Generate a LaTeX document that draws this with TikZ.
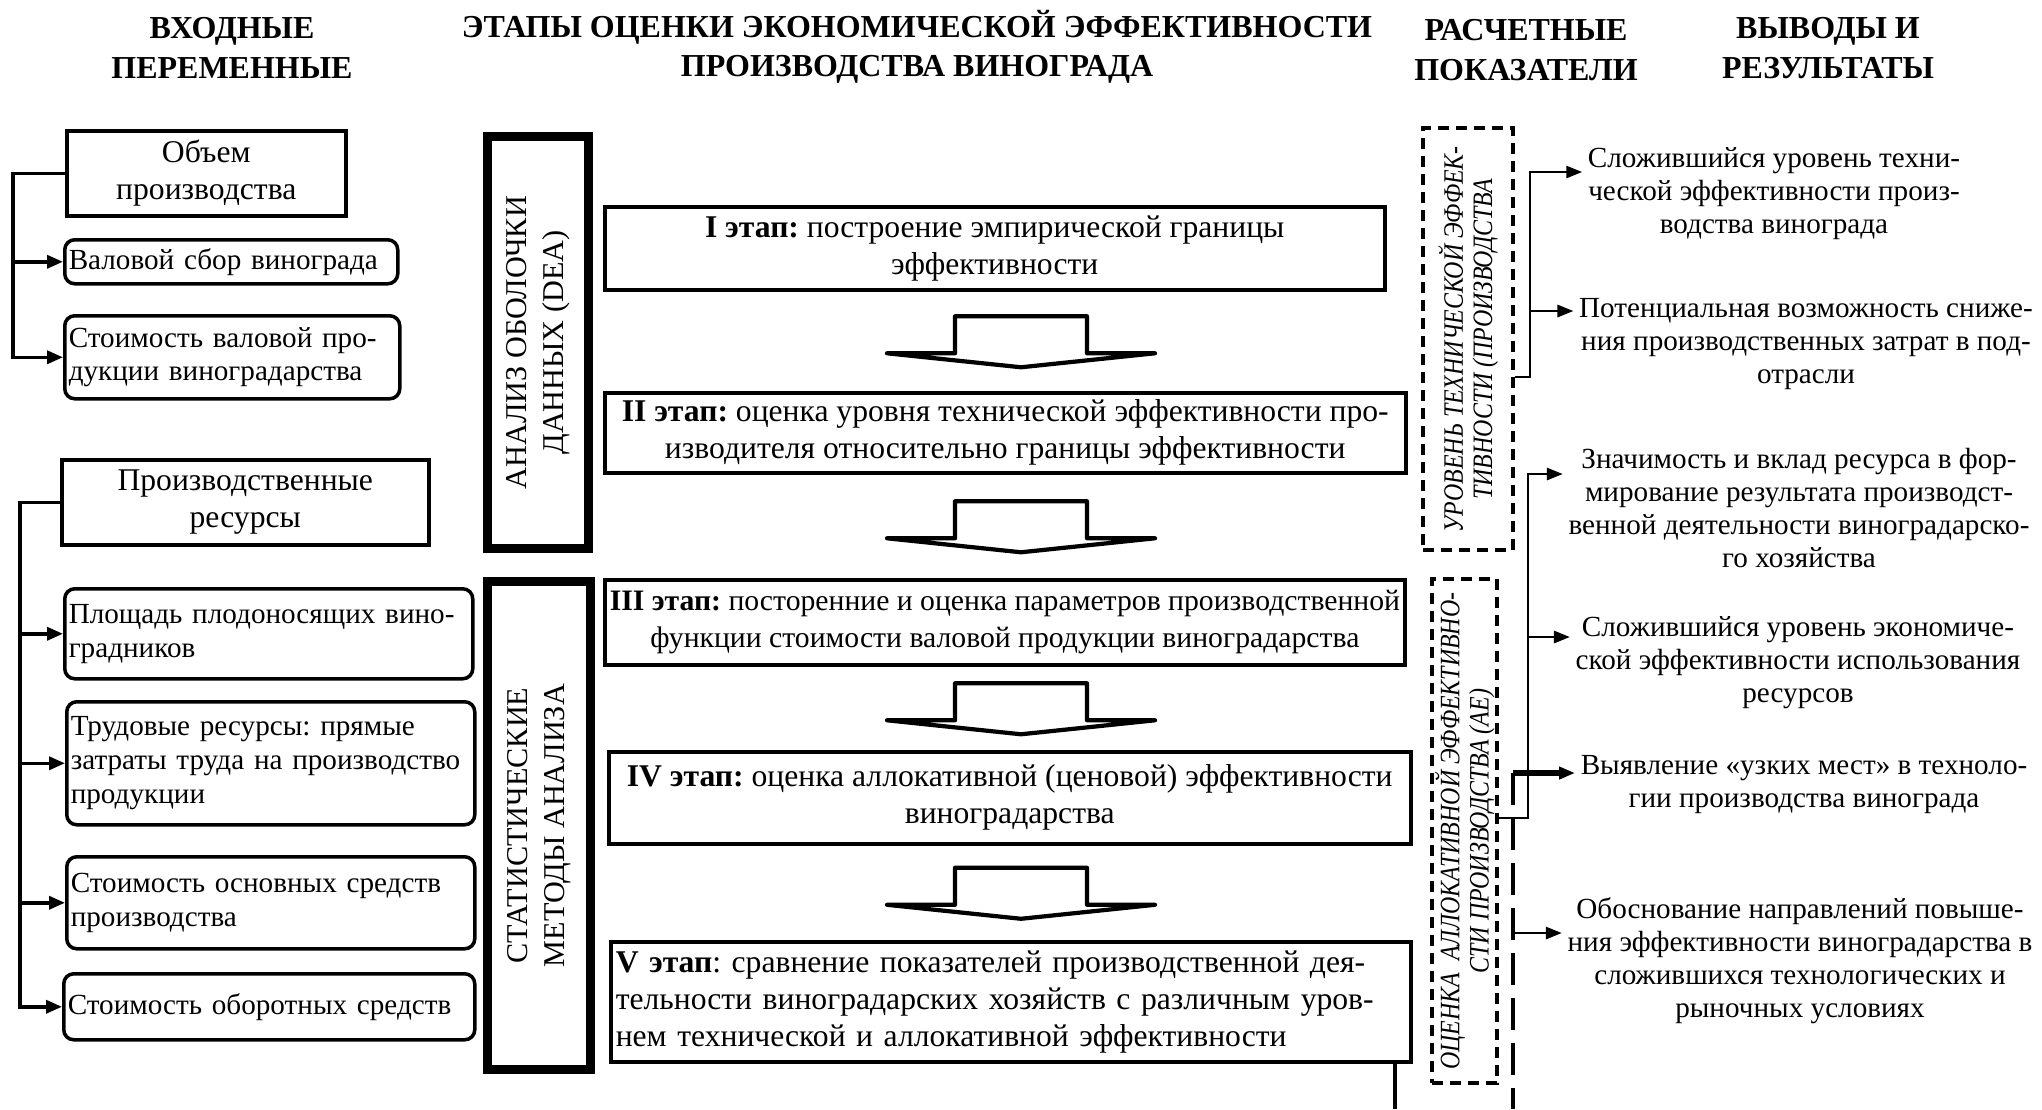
\documentclass[tikz,border=0pt]{standalone}
\usepackage{fontspec}
\setmainfont{Liberation Serif}
\newfontfamily\narrowserif[FakeStretch=0.85]{Liberation Serif}
\usetikzlibrary{positioning,calc,arrows.meta}

\begin{document}
\frenchspacing
\begin{tikzpicture}[
    x=0.1mm, y=-0.1mm,
    every node/.style={font=\fontsize{9pt}{10.5pt}\selectfont, inner sep=0.5mm},
    head/.style={font=\fontsize{9.1pt}{11.2pt}\selectfont\bfseries, align=center},
    grp/.style={draw, line width=1pt, anchor=north west, align=center},
    var/.style={draw, line width=1pt, rounded corners=1mm, anchor=north west, align=left,
        inner xsep=0.4mm, font=\fontsize{8.3pt}{9.6pt}\selectfont},
    stage/.style={draw, line width=1pt, anchor=north west, align=center},
    frame/.style={draw, line width=0.8mm, anchor=north west},
    calcbox/.style={draw, line width=1.2pt, dash pattern=on 1.1mm off 0.7mm, anchor=north west},
    vlabel/.style={rotate=90, align=center, font=\fontsize{8.6pt}{10.5pt}\selectfont},
    ilabel/.style={rotate=90, align=center, font=\narrowserif\fontsize{8pt}{8.3pt}\selectfont\itshape},
    res/.style={align=center, font=\fontsize{8.3pt}{9.4pt}\selectfont},
    feed/.style={line width=1pt, -{Triangle[length=1.6mm, width=1.3mm]}},
    outarr/.style={line width=0.8pt, -{Triangle[length=1.6mm, width=1.2mm]}},
    pics/downarrow/.style={code={
        \draw[line width=1.2pt, line join=round]
            (-66,-25) -- (66,-25) -- (66,12) -- (134,12) -- (0,26)
            -- (-134,12) -- (-66,12) -- cycle;
    }}
]
\useasboundingbox (0,0) rectangle (2042,1109);

% column headers
\node[head] (h1) at (232,48) {ВХОДНЫЕ\\ПЕРЕМЕННЫЕ};
\node[head] (h2) at (917,47) {ЭТАПЫ ОЦЕНКИ ЭКОНОМИЧЕСКОЙ ЭФФЕКТИВНОСТИ\\ПРОИЗВОДСТВА ВИНОГРАДА};
\node[head] (h3) at (1526,50) {РАСЧЕТНЫЕ\\ПОКАЗАТЕЛИ};
\node[head] (h4) at (1828,48) {ВЫВОДЫ И\\РЕЗУЛЬТАТЫ};

% input variables
\node[grp, minimum width=27.9mm, minimum height=8.5mm] (g1) at (65,129) {Объем\\производства};
\node[var, text width=32.5mm, minimum height=4.4mm] (v1) at (63,238) {Валовой сбор винограда};
\node[var, text width=32.7mm, minimum height=8.3mm] (v2) at (63,314) {Стоимость валовой про-\\дукции виноградарства};
\node[grp, minimum width=36.7mm, minimum height=8.5mm] (g2) at (60,458) {Производственные\\ресурсы};
\node[var, text width=40mm, minimum height=9mm] (v3) at (63,587) {Площадь плодоносящих вино-\\градников};
\node[var, text width=40mm, minimum height=12.3mm] (v4) at (65,700) {Трудовые ресурсы: прямые\\затраты труда на производство\\продукции};
\node[var, text width=40mm, minimum height=9.2mm] (v5) at (65,855) {Стоимость основных средств\\производства};
\node[var, text width=40.3mm, minimum height=6.6mm] (v6) at (62,972) {Стоимость оборотных средств};

\draw[feed] (g1.west) -- ++(-52,0) coordinate (t1) |- (v2.west);
\draw[feed] (t1 |- v1.west) -- (v1.west);
\draw[feed] (g2.west) -- ++(-40,0) coordinate (t2) |- (v6.west);
\foreach \v in {v3,v4,v5}
    \draw[feed] (t2 |- \v.west) -- (\v.west);

% method frames
\node[frame, minimum width=10.2mm, minimum height=41.3mm] (dea) at (483,132) {};
\draw[line width=0.6pt] ([shift={(0.8mm,-0.8mm)}]dea.north west) rectangle ([shift={(-0.8mm,0.8mm)}]dea.south east);
\node[vlabel] at (dea.center) {АНАЛИЗ ОБОЛОЧКИ\\ДАННЫХ (DEA)};
\node[frame, minimum width=10.4mm, minimum height=48.9mm] (stat) at (483,577) {};
\draw[line width=0.6pt] ([shift={(0.8mm,-0.8mm)}]stat.north west) rectangle ([shift={(-0.8mm,0.8mm)}]stat.south east);
\node[vlabel] at (stat.center) {СТАТИСТИЧЕСКИЕ\\МЕТОДЫ АНАЛИЗА};

% stages
\node[stage, minimum width=78mm, minimum height=8.3mm] (s1) at (603,205)
    {\textbf{I этап:} построение эмпирической границы\\эффективности};
\node[stage, minimum width=80.1mm, minimum height=8mm] (s2) at (603,391)
    {\textbf{II этап:} оценка уровня технической эффективности про-\\изводителя относительно границы эффективности};
\node[stage, minimum width=80mm, minimum height=8.5mm, font=\fontsize{8.45pt}{10.5pt}\selectfont] (s3) at (603,578)
    {\textbf{III этап:} посторенние и оценка параметров производственной\\функции стоимости валовой продукции виноградарства};
\node[stage, minimum width=80.2mm, minimum height=9.2mm] (s4) at (607,750)
    {\textbf{IV этап:} оценка аллокативной (ценовой) эффективности\\виноградарства};
\node[stage, align=left, text width=79mm, minimum height=12mm] (s5) at (609,940)
    {\textbf{V этап}: сравнение показателей производственной дея-\\тельности виноградарских хозяйств с различным уров-\\нем технической и аллокативной эффективности};

\coordinate (m1) at ($(s1.south)!.5!(s2.north)$);
\coordinate (m2) at ($(s2.south)!.5!(s3.north)$);
\coordinate (m3) at ($(s3.south)!.5!(s4.north)$);
\coordinate (m4) at ($(s4.south)!.5!(s5.north)$);
\foreach \m in {m1,m2,m3,m4}
    \pic at (\m -| 1021,0) {downarrow};

\coordinate (cut) at (1395,1109);
\draw[line width=1pt] (s5.south -| cut) -- (cut);

% calculated indicators
\node[calcbox, minimum width=9mm, minimum height=42.2mm] (te) at (1421,126) {};
\node[ilabel] at (te.center) {УРОВЕНЬ ТЕХНИЧЕСКОЙ ЭФФЕК-\\ТИВНОСТИ (ПРОИЗВОДСТВА};
\node[calcbox, minimum width=6.5mm, minimum height=50.4mm] (ae) at (1430,577) {};
\node[ilabel] at (ae.center) {ОЦЕНКА\ \ АЛЛОКАТИВНОЙ ЭФФЕКТИВНО-\\СТИ ПРОИЗВОДСТВА (АЕ)};

% conclusions
\node[res] (r1) at (1774,194) {Сложившийся уровень техни-\\ческой эффективности произ-\\водства винограда};
\node[res] (r2) at (1806,344) {Потенциальная возможность сниже-\\ния производственных затрат в под-\\отрасли};
\node[res] (r3) at (1799,508) {Значимость и вклад ресурса в фор-\\мирование результата производст-\\венной деятельности виноградарско-\\го хозяйства};
\node[res] (r4) at (1798,663) {Сложившийся уровень экономиче-\\ской эффективности использования\\ресурсов};
\node[res] (r5) at (1804,785) {Выявление «узких мест» в техноло-\\гии производства винограда};
\node[res] (r6) at (1800,961) {Обоснование направлений повыше-\\ния эффективности виноградарства в\\сложившихся технологических и\\рыночных условиях};

\draw[outarr] (te.east |- 0,377) -| (1530,172) -- (r1.west |- 0,172);
\draw[outarr] (1530,311) -- (r2.west |- 0,311);
\draw[outarr] (ae.east |- 0,818) -| (1528,474) -- (r3.west |- 0,474);
\draw[outarr] (1528,637) -- (r4.west |- 0,637);
\coordinate (low) at (1513,1109);
\draw[line width=1.2pt, dash pattern=on 3.2mm off 1.3mm] (1513,773) -- (low);
\draw[outarr, line width=1.6pt] (1513,773) -- (r5.west |- 0,773);
\draw[outarr] (1513,933) -- (r6.west |- 0,933);
\end{tikzpicture}
\end{document}
